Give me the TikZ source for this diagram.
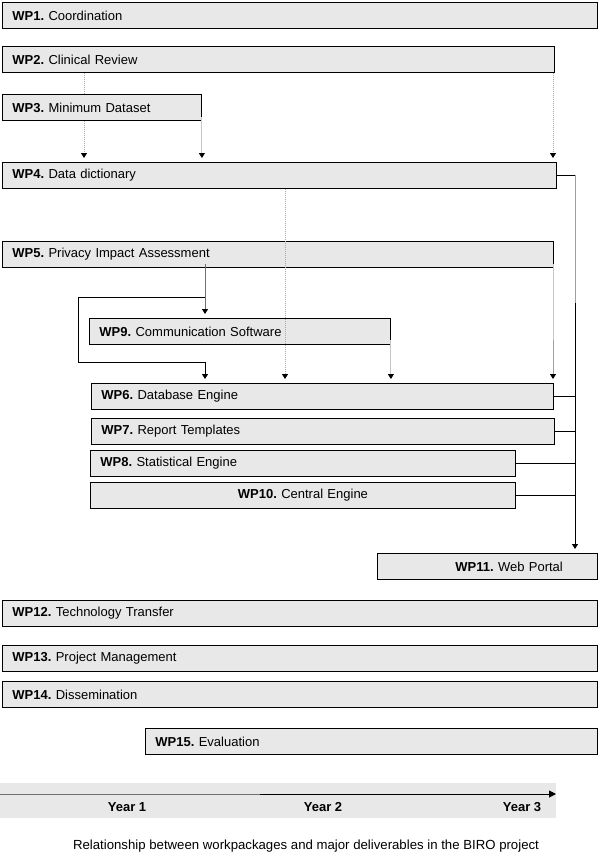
\documentclass[tikz,border=0pt]{standalone}
\usepackage{fontspec}
\setmainfont{Liberation Sans}
\usetikzlibrary{arrows.meta}
\definecolor{boxgray}{HTML}{E8E8E8}
\definecolor{dotgray}{HTML}{A8A8A8}
\definecolor{lgray}{HTML}{C8C8C8}
\definecolor{mgray}{HTML}{A0A0A0}
\definecolor{dgray}{HTML}{707070}
\tikzset{
  wp/.style={draw=black, fill=boxgray, line width=0.9pt, minimum height=26pt,
    inner xsep=10pt, inner ysep=0pt, align=left, anchor=north west,
    font=\fontsize{13}{15}\selectfont},
  arr/.style={-{Triangle[length=5pt,width=6pt,color=black]}, shorten >=4pt},
  dotconn/.style={draw=dotgray, line width=0.8pt, dash pattern=on 1pt off 1pt},
  lgconn/.style={draw=lgray, line width=0.9pt},
  mgconn/.style={draw=mgray, line width=0.9pt},
  dgconn/.style={draw=dgray, line width=0.9pt},
  blk/.style={draw=black, line width=0.9pt},
  year/.style={font=\bfseries\fontsize{13}{15}\selectfont, inner sep=0pt},
}
\begin{document}
\frenchspacing
\begin{tikzpicture}[x=1pt,y=-1pt]
\useasboundingbox (0,0) rectangle (600,860);
\fill[white] (0,0) rectangle (600,860);

\node[wp, text width=575pt] (wp1) at (2,2) {\textbf{WP1.} Coordination};
\node[wp, text width=532pt] (wp2) at (2,46) {\textbf{WP2.} Clinical Review};
\node[wp, text width=179pt] (wp3) at (2,94) {\textbf{WP3.} Minimum Dataset};
\node[wp, text width=534pt] (wp4) at (2,162) {\textbf{WP4.} Data dictionary};
\node[wp, text width=531pt] (wp5) at (2,241) {\textbf{WP5.} Privacy Impact Assessment};
\node[wp, text width=281pt] (wp9) at (89,318) {\textbf{WP9.} Communication Software};
\node[wp, text width=442pt] (wp6) at (91,383) {\textbf{WP6.} Database Engine};
\node[wp, text width=443pt] (wp7) at (91,418) {\textbf{WP7.} Report Templates};
\node[wp, text width=405pt] (wp8) at (90,450) {\textbf{WP8.} Statistical Engine};
\node[wp, text width=405pt, align=center] (wp10) at (90,482) {\textbf{WP10.} Central Engine};
\node[wp, text width=200pt] (wp11) at (377,553) {\hspace*{68pt}\textbf{WP11.} Web Portal};
\node[wp, text width=575pt] (wp12) at (2,600) {\textbf{WP12.} Technology Transfer};
\node[wp, text width=575pt] (wp13) at (2,645) {\textbf{WP13.} Project Management};
\node[wp, text width=575pt] (wp14) at (2,681) {\textbf{WP14.} Dissemination};
\node[wp, text width=432pt] (wp15) at (145,728) {\textbf{WP15.} Evaluation};

% column coordinates
\coordinate (xa) at (84,0);
\coordinate (xc) at (553,0);
\coordinate (xd) at (285,0);
\coordinate (xe) at (205,0);
\coordinate (xf) at (78,0);
\coordinate (xh) at (575,0);
\coordinate (j1) at (205,297);
\coordinate (j2) at (205,362);
\coordinate (vh) at (575,303);
\coordinate (vc) at (553,340);

% connectors
\draw[dotconn] (wp2.south -| xa) -- (wp3.north -| xa);
\draw[dotconn, arr] (wp3.south -| xa) -- (wp4.north -| xa);
\draw[lgconn, arr] ([yshift=4pt]wp3.south east) -- (wp4.north -| wp3.east);
\draw[dotconn, arr] (wp2.south -| xc) -- (wp4.north -| xc);
\draw[blk] (wp4.east) -- (wp4.east -| xh);
\draw[mgconn] (wp4.east -| xh) -- (vh);
\draw[blk, arr] (vh) -- (wp11.north -| xh);
\draw[dotconn, arr] (wp4.south -| xd) -- (wp6.north -| xd);
\draw[dgconn, arr] ([yshift=4pt]wp5.south -| xe) -- (wp9.north -| xe);
\draw[blk, arr] (j1) -- (j1 -| xf) -- (xf |- j2) -- (j2) -- (wp6.north -| j2);
\draw[lgconn, arr] ([yshift=5pt]wp9.south east) -- (wp6.north -| wp9.east);
\draw[lgconn] ([yshift=4pt]wp5.south -| xc) -- (vc);
\draw[mgconn, arr] (vc) -- (wp6.north -| xc);
\draw[blk] (wp6.east) -- (wp6.east -| xh);
\draw[blk] (wp7.east) -- (wp7.east -| xh);
\draw[blk] (wp8.east) -- (wp8.east -| xh);
\draw[blk] (wp10.east) -- (wp10.east -| xh);

% timeline
\fill[boxgray] (0,783) rectangle (556,818);
\coordinate (t0) at (0,794);
\coordinate (tm) at (260,794);
\coordinate (t1) at (556,794);
\draw[dgconn] (t0) -- (tm);
\draw[blk, -{Triangle[length=7pt,width=7pt]}] (tm) -- (t1);
\node[year] (y1) at (127,807) {Year 1};
\node[year] (y2) at (323,807) {Year 2};
\node[year] (y3) at (522,807) {Year 3};

\node[font=\fontsize{13.2}{15}\selectfont, inner sep=0pt] (cap) at (306,846)
  {Relationship between workpackages and major deliverables in the BIRO project};
\end{tikzpicture}
\end{document}
